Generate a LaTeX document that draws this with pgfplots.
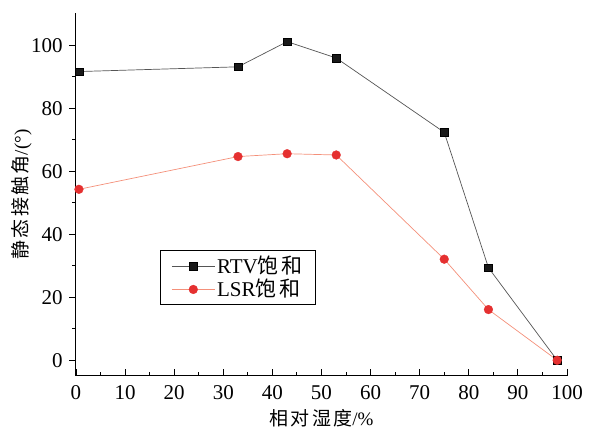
\documentclass[border=0pt]{standalone}
\usepackage{fontspec}
\setmainfont{Liberation Serif}
\newfontfamily\cjk[LetterSpace=12]{Noto Sans CJK SC}
\usepackage{pgfplots}
\pgfplotsset{compat=1.18}
\definecolor{rtvline}{HTML}{555555}
\definecolor{lsrline}{HTML}{F4907A}
\definecolor{lsrmark}{HTML}{E53030}
\begin{document}
\fontsize{20}{24}\selectfont
\begin{tikzpicture}
\useasboundingbox (-76pt,-54pt) rectangle (519pt,376pt);
\begin{axis}[
 at={(0pt,0pt)}, anchor=south west,
 scale only axis, width=491pt, height=363pt,
 xmin=0, xmax=100, ymin=-5, ymax=110.3,
 axis x line=bottom, axis y line=left,
 axis line style={-, line width=1pt, black},
 xtick={0,10,...,100}, ytick={0,20,...,100},
 minor xtick={5,15,...,95}, minor ytick={10,30,...,90},
 xtick align=inside, ytick align=outside,
 major tick length=6.5pt, minor tick length=3.5pt,
 every tick/.style={black, line width=0.9pt},
 /pgf/number format/assume math mode=true,
 ticklabel style={font=\fontsize{21}{24}\selectfont},
 xticklabel style={yshift=-3pt},
 xlabel={{\cjk 相对湿度}/\%},
 ylabel={{\cjk 静态接触角}/(°)},
 xlabel style={yshift=4pt},
 ylabel style={yshift=-14pt},
 label style={font=\fontsize{19}{22}\selectfont},
 legend style={at={(axis cs:17.1,35)}, anchor=north west, draw=black, line width=1pt,
   font=\fontsize{21}{23}\selectfont, inner xsep=11pt, inner ysep=3pt, row sep=-1pt},
 legend cell align=left,
 legend image code/.code={
   \draw[#1, mark=none] (0pt,0pt) -- (43pt,0pt);
   \draw[#1, only marks] plot coordinates {(21.5pt,0pt)};
 },
]
\addplot[color=rtvline, line width=0.7pt, mark=square*, mark size=3.8pt,
  mark options={black, fill=black!90, line width=0.3pt}]
  coordinates {(0.6,91.7) (33,93.2) (43,101.2) (53,96.0) (75,72.4) (84,29.4) (98,0)};
\addlegendentry{RTV{\cjk 饱和}}
\addplot[color=lsrline, line width=0.7pt, mark=*, mark size=4.4pt,
  mark options={lsrmark, fill=lsrmark, line width=0.3pt}]
  coordinates {(0.6,54.3) (33,64.7) (43,65.6) (53,65.2) (75,32.1) (84,16.1) (98,0)};
\addlegendentry{LSR{\cjk 饱和}}
\end{axis}
\end{tikzpicture}
\end{document}
